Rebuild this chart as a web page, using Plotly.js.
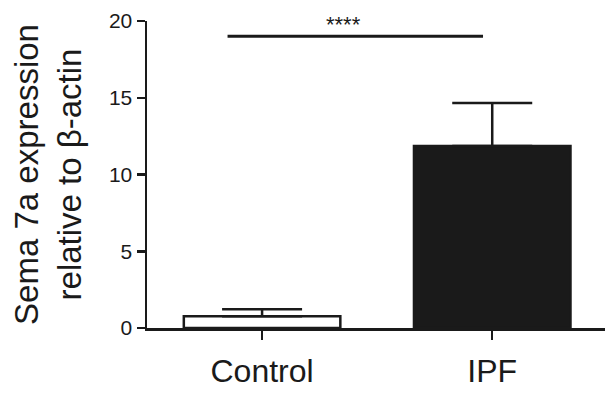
<!DOCTYPE html>
<html>
<head>
<meta charset="utf-8">
<script src="https://cdn.plot.ly/plotly-3.0.1.min.js"></script>
<style>html,body{margin:0;padding:0;background:#fff;}#chart{width:605px;height:396px;}</style>
</head>
<body>
<div id="chart"></div>
<script>
const categories = ["Control", "IPF"];
const means = [0.77, 11.86];
const errorsUp = [0.45, 2.8];
const barColors = ["#ffffff", "#1a1a1a"];
const yTicks = [0, 5, 10, 15, 20];
const sigSpan = [-0.15, 0.96];
const sigY = 19;
const sigText = "****";

const font = "Liberation Sans, Arial, sans-serif";

const trace = {
  type: "bar",
  x: [0, 1],
  y: means,
  width: 0.68,
  marker: { color: barColors, line: { color: "#1a1a1a", width: 2.5 } },
  error_y: {
    type: "data", symmetric: false, array: errorsUp, arrayminus: [0, 0],
    color: "#1a1a1a", thickness: 2.5, width: 40
  },
  hoverinfo: "none"
};

const layout = {
  width: 605, height: 396,
  margin: { l: 147, r: 0, t: 21, b: 68 },
  paper_bgcolor: "#fff", plot_bgcolor: "#fff",
  showlegend: false,
  font: { family: font, color: "#1a1a1a" },
  xaxis: {
    range: [-0.5, 1.49],
    tickvals: [0, 1], ticktext: categories,
    ticks: "outside", ticklen: 9, tickwidth: 2, tickcolor: "#1a1a1a",
    ticklabelstandoff: 4,
    showline: true, linecolor: "#1a1a1a", linewidth: 2.5,
    showgrid: false, zeroline: false,
    tickfont: { size: 32, family: font, color: "#1a1a1a" }
  },
  yaxis: {
    range: [0, 20],
    tickvals: yTicks, ticktext: yTicks.map(String),
    ticks: "outside", ticklen: 8, tickwidth: 2.5, tickcolor: "#1a1a1a",
    showline: true, linecolor: "#1a1a1a", linewidth: 2.5,
    showgrid: false, zeroline: false,
    tickfont: { size: 21, family: font, color: "#1a1a1a" },
    title: { text: "Sema 7a expression<br>relative to β-actin", font: { size: 33, family: font, color: "#1a1a1a" }, standoff: 18 }
  },
  shapes: [{
    type: "line", xref: "x", yref: "y",
    x0: sigSpan[0], x1: sigSpan[1], y0: sigY, y1: sigY,
    line: { color: "#1a1a1a", width: 3 }
  }],
  annotations: [{
    xref: "x", yref: "y", x: (sigSpan[0] + sigSpan[1]) / 2 - 0.05, y: sigY,
    text: sigText, showarrow: false, yanchor: "bottom", yshift: -3,
    font: { size: 22, family: font, color: "#1a1a1a" }
  }]
};

Plotly.newPlot("chart", [trace], layout, { staticPlot: true, displayModeBar: false });
</script>
</body>
</html>
